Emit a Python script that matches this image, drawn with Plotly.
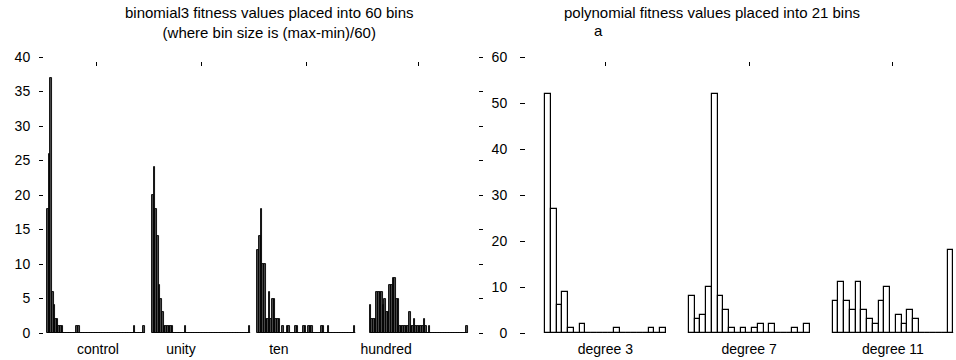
import plotly.graph_objects as go

# ---------------- data ----------------
left_groups = ["control", "unity", "ten", "hundred"]
control_bins = [18, 26, 37, 6, 4, 2, 2, 1, 1, 1, 0, 0, 0, 0, 0, 0, 0, 0, 1, 1,
                0, 0, 0, 0, 0, 0, 0, 0, 0, 0, 0, 0, 0, 0, 0, 0, 0, 0, 0, 0,
                0, 0, 0, 0, 0, 0, 0, 0, 0, 0, 0, 0, 0, 1, 0, 0, 0, 0, 0, 1]
unity_bins = [20, 24, 18, 14, 7, 5, 3, 1, 1, 1, 1, 1, 1, 0, 0, 0, 0, 0, 0, 0,
              1, 0, 0, 0, 0, 0, 0, 0, 0, 0, 0, 0, 0, 0, 0, 0, 0, 0, 0, 0,
              0, 0, 0, 0, 0, 0, 0, 0, 0, 0, 0, 0, 0, 0, 0, 0, 0, 0, 0, 1]
ten_bins = [12, 14, 18, 10, 10, 2, 2, 6, 2, 5, 5, 2, 2, 2, 0, 1, 0, 0, 1, 1,
            0, 0, 0, 1, 1, 0, 0, 0, 1, 1, 0, 1, 1, 1, 0, 0, 0, 0, 0, 1,
            1, 0, 0, 1, 0, 0, 0, 0, 0, 0, 0, 0, 0, 0, 0, 0, 0, 0, 0, 1]
hundred_bins = [4, 2, 2, 2, 6, 6, 6, 6, 4, 5, 3, 3, 7, 7, 8, 8, 5, 5, 1, 1,
                1, 1, 1, 1, 3, 1, 1, 2, 1, 1, 1, 1, 1, 2, 1, 0, 1, 0, 0, 0,
                0, 0, 0, 0, 0, 0, 0, 0, 0, 0, 0, 0, 0, 0, 0, 0, 0, 0, 0, 1]
left_values = [control_bins, unity_bins, ten_bins, hundred_bins]
left_yticks = [0, 5, 10, 15, 20, 25, 30, 35, 40]

right_groups = ["degree 3", "degree 7", "degree 11"]
degree3_bins = [52, 27, 6, 9, 1, 0, 2, 0, 0, 0, 0, 0, 1, 0, 0, 0, 0, 0, 1, 0, 1]
degree7_bins = [8, 3, 4, 10, 52, 8, 5, 1, 0, 1, 0, 1, 2, 0, 2, 0, 0, 0, 1, 0, 2]
degree11_bins = [7, 11, 7, 5, 11, 5, 3, 2, 7, 10, 0, 4, 2, 5, 3, 0, 0, 0, 0, 0, 18]
right_values = [degree3_bins, degree7_bins, degree11_bins]
right_yticks = [0, 10, 20, 30, 40, 50, 60]

left_title = "binomial3 fitness values placed into 60 bins<br>(where bin size is (max-min)/60)"
right_title = "polynomial fitness values placed into 21 bins"
right_subtitle = "a"

# ---------------- layout helpers ----------------
W, H = 956, 360
FONT = "Liberation Sans, Arial, Helvetica, sans-serif"

def fx(px):
    return px / W

def fy(py):
    return 1 - py / H

# left panel geometry (bin units)
L_BINW = 98 / 60.0
L_OFFS = [0, 64.4, 128.8, 197.6]
L_LABEL_POS = [31.2, 82.0, 142.0, 207.6]
# right panel geometry
R_BINW = 5.75
R_OFFS = [0, 25, 50]

fig = go.Figure()

def add_groups(values, offsets, xa, ya, lw, fill):
    for vals, off in zip(values, offsets):
        n = len(vals)
        xs = [off + i + 0.5 for i in range(n)]
        fig.add_trace(go.Scatter(x=[off, off + n], y=[0, 0], mode="lines",
                                 line=dict(color="black", width=1.3),
                                 xaxis=xa, yaxis=ya, showlegend=False, hoverinfo="skip"))
        fig.add_trace(go.Bar(x=xs, y=vals, width=1.0, xaxis=xa, yaxis=ya,
                             marker=dict(color=fill, line=dict(color="black", width=lw)),
                             showlegend=False))

add_groups(left_values, L_OFFS, "x", "y", 0.9, "#4a4a4a")
add_groups(right_values, R_OFFS, "x2", "y2", 1.2, "white")

# invisible traces for the top tick axes
l_centers = [o + 30 for o in L_OFFS]
r_centers = [o + 10.5 for o in R_OFFS]
fig.add_trace(go.Scatter(x=l_centers, y=[0] * 4, mode="markers", marker=dict(opacity=0),
                         xaxis="x3", yaxis="y", showlegend=False, hoverinfo="skip"))
fig.add_trace(go.Scatter(x=r_centers, y=[0] * 3, mode="markers", marker=dict(opacity=0),
                         xaxis="x4", yaxis="y2", showlegend=False, hoverinfo="skip"))

l_range = [-(47 - 44) / L_BINW, (478 - 47) / L_BINW]
r_range = [-(545 - 526) / R_BINW, (956 - 545) / R_BINW]
ydom = [fy(333), fy(57)]

tickfont = dict(family=FONT, size=14, color="black")
common_x = dict(showgrid=False, zeroline=False, showline=False, fixedrange=True)

fig.update_layout(
    width=W, height=H, autosize=False,
    margin=dict(l=0, r=0, t=0, b=0),
    paper_bgcolor="white", plot_bgcolor="white",
    barmode="overlay", bargap=0,
    font=dict(family=FONT, size=14, color="black"),
    xaxis=dict(domain=[fx(44), fx(478)], range=l_range, tickvals=L_LABEL_POS,
               ticktext=left_groups, ticks="", tickfont=dict(family=FONT, size=14),
               ticklabelstandoff=6, automargin=False, **common_x),
    yaxis=dict(domain=ydom, range=[0, 40], tickvals=left_yticks, ticks="outside",
               ticklen=4, tickwidth=1, tickcolor="black", mirror="ticks",
               showgrid=False, zeroline=False, showline=False, tickfont=tickfont,
               ticklabelstandoff=6, automargin=False),
    xaxis2=dict(domain=[fx(526), 1.0], range=r_range, anchor="y2",
                tickvals=[o + 10.5 for o in R_OFFS], ticktext=right_groups, ticks="",
                tickfont=dict(family=FONT, size=14), ticklabelstandoff=6,
                automargin=False, **common_x),
    yaxis2=dict(domain=ydom, range=[0, 60], anchor="x2", tickvals=right_yticks,
                ticks="outside", ticklen=5, tickwidth=1, tickcolor="black",
                showgrid=False, zeroline=False, showline=False, tickfont=tickfont,
                ticklabelstandoff=10, automargin=False),
    xaxis3=dict(overlaying="x", anchor="free", position=fy(61), side="bottom",
                range=l_range, tickvals=l_centers, ticks="outside", ticklen=4,
                tickwidth=1, tickcolor="black", showticklabels=False, **common_x),
    xaxis4=dict(overlaying="x2", anchor="free", position=fy(61), side="bottom",
                range=r_range, tickvals=r_centers, ticks="outside", ticklen=4,
                tickwidth=1, tickcolor="black", showticklabels=False, **common_x),
    annotations=[
        dict(text=left_title, x=fx(269), y=fy(3), xref="paper", yref="paper",
             xanchor="center", yanchor="top", showarrow=False, borderpad=0,
             font=dict(family=FONT, size=15)),
        dict(text=right_title, x=fx(712), y=fy(3), xref="paper", yref="paper",
             xanchor="center", yanchor="top", showarrow=False, borderpad=0,
             font=dict(family=FONT, size=15)),
        dict(text=right_subtitle, x=fx(593), y=fy(21), xref="paper", yref="paper",
             xanchor="left", yanchor="top", showarrow=False, borderpad=0,
             font=dict(family=FONT, size=15)),
    ],
)

fig.write_html("out.html")
